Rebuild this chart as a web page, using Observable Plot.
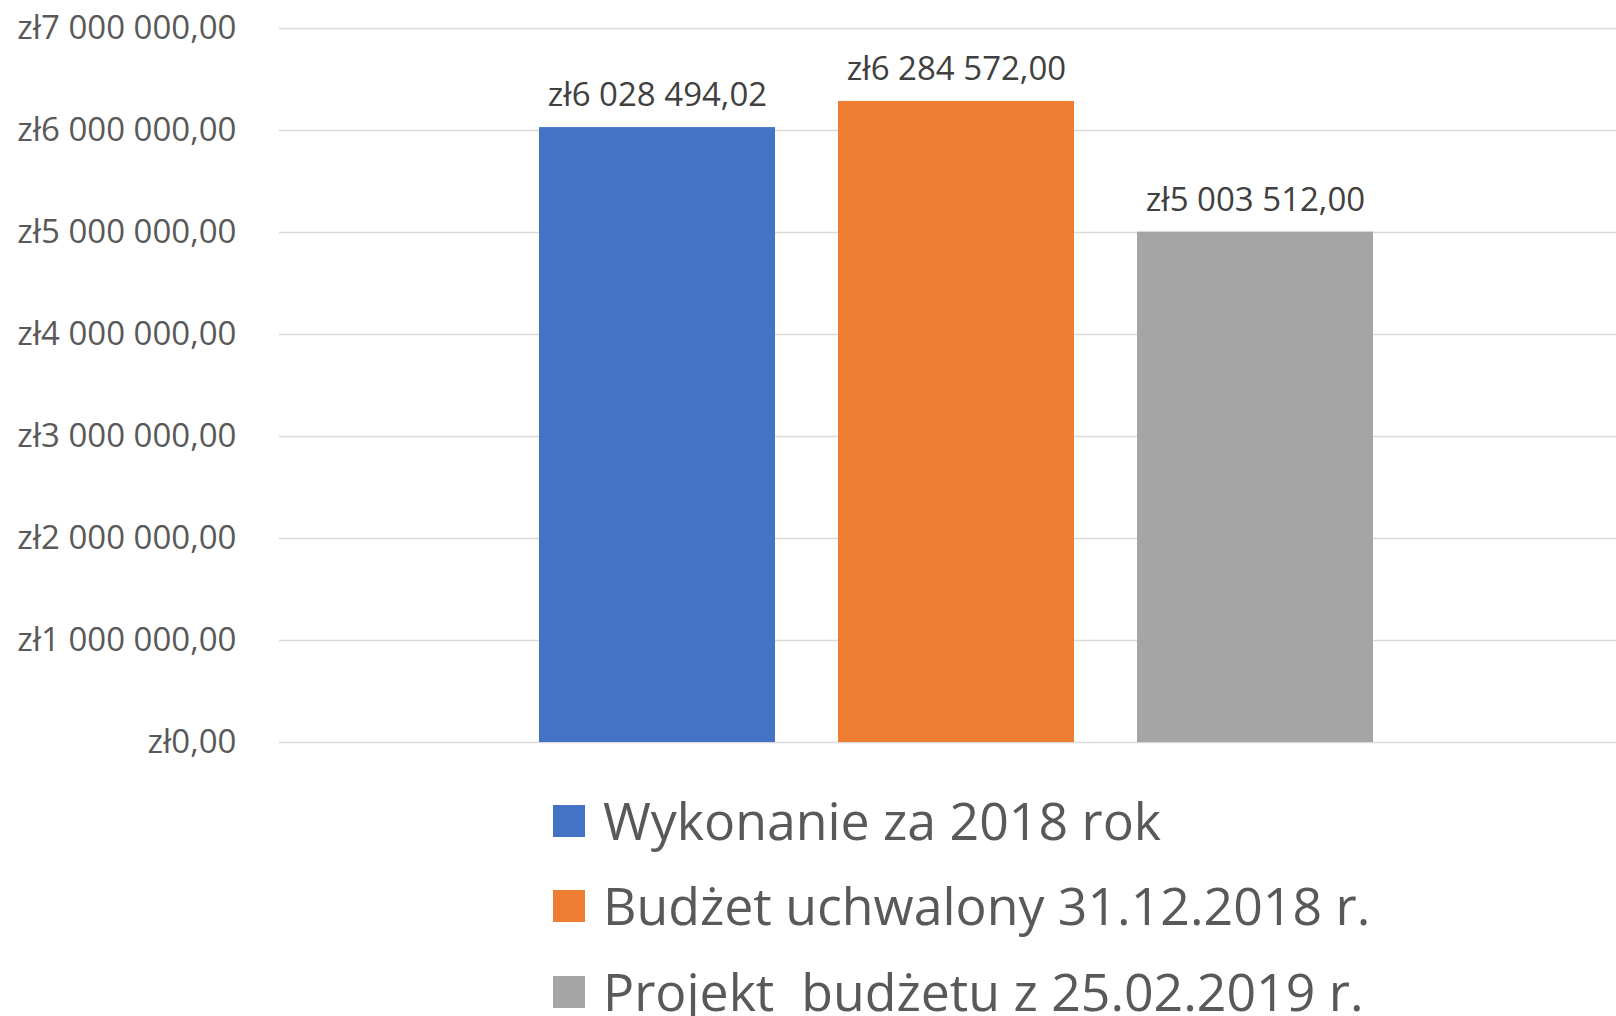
<!DOCTYPE html>
<html>
<head>
<meta charset="utf-8">
<script src="https://cdn.jsdelivr.net/npm/d3@7"></script>
<script src="https://cdn.jsdelivr.net/npm/@observablehq/plot@0.6"></script>
<style>
  html, body { margin: 0; padding: 0; background: #fff; }
  body { width: 1616px; height: 1016px; overflow: hidden; font-family: "Open Sans", sans-serif; }
  #chart svg { display: block; }
  #legend { padding-left: 553px; margin-top: -2px; }
  .row { display: flex; align-items: center; height: 85.5px; }
  .sw { width: 32px; height: 32px; margin-right: 18px; flex: none; }
  .lab { font-size: 51.8px; color: #595959; white-space: pre; line-height: 1; }
</style>
</head>
<body>
<div id="chart"></div>
<div id="legend"></div>
<script>
const series = ["Wykonanie za 2018 rok", "Budżet uchwalony 31.12.2018 r.", "Projekt  budżetu z 25.02.2019 r."];
const values = [6028494.02, 6284572.00, 5003512.00];
const colors = ["#4472C4", "#ED7D31", "#A5A5A5"];
const yTicks = [0, 1000000, 2000000, 3000000, 4000000, 5000000, 6000000, 7000000];

const data = series.map((s, i) => ({series: s, value: values[i]}));

const locale = d3.formatLocale({decimal: ",", thousands: "\u00a0", grouping: [3], currency: ["zł", ""]});
const fmt = locale.format("$,.2f");

const chart = Plot.plot({
  width: 1616,
  height: 780,
  marginTop: 28,
  marginBottom: 38,
  marginLeft: 279,
  marginRight: 0,
  style: {fontFamily: "Open Sans", fontSize: "33px", color: "#595959", background: "#fff", overflow: "visible"},
  x: {domain: series, range: [538, 1374], paddingInner: 0.21, paddingOuter: 0, axis: null},
  y: {domain: [0, 7000000], ticks: yTicks, tickFormat: fmt, tickSize: 0, tickPadding: 43, label: null},
  color: {domain: series, range: colors},
  marks: [
    Plot.ruleY(yTicks, {stroke: "#D9D9D9", strokeWidth: 1.5}),
    Plot.barY(data, {x: "series", y: "value", fill: "series"}),
    Plot.text(data, {x: "series", y: "value", text: d => fmt(d.value), dy: -32, fill: "#404040", fontSize: 33}),
    Plot.axisY({ticks: yTicks, tickFormat: fmt, tickSize: 0, tickPadding: 43, fontSize: 33, fill: "#595959", label: null})
  ]
});
document.getElementById("chart").appendChild(chart);

const legend = document.getElementById("legend");
series.forEach((s, i) => {
  const row = document.createElement("div");
  row.className = "row";
  const sw = document.createElement("div");
  sw.className = "sw";
  sw.style.background = colors[i];
  const lab = document.createElement("span");
  lab.className = "lab";
  lab.textContent = s;
  row.appendChild(sw);
  row.appendChild(lab);
  legend.appendChild(row);
});
</script>
</body>
</html>
